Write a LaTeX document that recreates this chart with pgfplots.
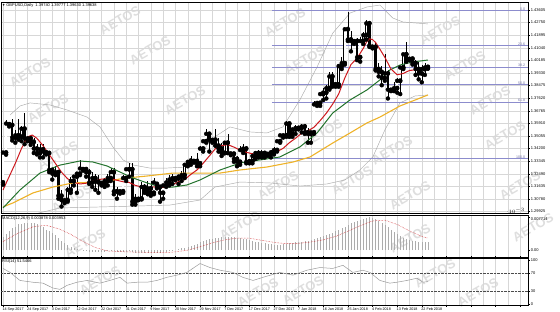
\documentclass[border=0pt]{standalone}
\usepackage{fontspec}
\setmainfont{Liberation Sans}
\usepackage{pgfplots}
\usepackage{pgfplotstable}
\pgfplotsset{compat=1.18}

\definecolor{maRed}{RGB}{205,25,30}
\definecolor{maGreen}{RGB}{35,115,45}
\definecolor{maGold}{RGB}{238,178,40}
\definecolor{fibBlue}{RGB}{140,140,205}
\definecolor{bbGray}{RGB}{170,170,170}
\definecolor{gridGray}{RGB}{215,215,215}
\definecolor{wm}{RGB}{222,222,222}

\pgfplotstableread{
i O H L C
0 1.3190 1.3400 1.3175 1.3393
1 1.3393 1.3616 1.3379 1.3590
2 1.3585 1.3600 1.3570 1.3580
3 1.3580 1.3618 1.3475 1.3495
4 1.3495 1.3545 1.3460 1.3510
5 1.3510 1.3620 1.3480 1.3500
6 1.3500 1.3570 1.3470 1.3555
7 1.3555 1.3660 1.3450 1.3490
8 1.3480 1.3500 1.3470 1.3490
9 1.3490 1.3500 1.3445 1.3465
10 1.3465 1.3490 1.3390 1.3420
11 1.3420 1.3450 1.3380 1.3390
12 1.3390 1.3450 1.3360 1.3415
13 1.3415 1.3450 1.3360 1.3400
14 1.3395 1.3400 1.3380 1.3390
15 1.3390 1.3400 1.3260 1.3275
16 1.3275 1.3290 1.3210 1.3250
17 1.3250 1.3300 1.3240 1.3260
18 1.3260 1.3265 1.3080 1.3100
19 1.3100 1.3140 1.3027 1.3070
20 1.3060 1.3080 1.3050 1.3070
21 1.3070 1.3160 1.3060 1.3140
22 1.3140 1.3230 1.3120 1.3200
23 1.3200 1.3240 1.3170 1.3230
24 1.3230 1.3260 1.3120 1.3250
25 1.3250 1.3340 1.3240 1.3285
26 1.3280 1.3290 1.3270 1.3280
27 1.3280 1.3290 1.3230 1.3260
28 1.3260 1.3280 1.3180 1.3190
29 1.3190 1.3260 1.3160 1.3220
30 1.3220 1.3250 1.3140 1.3195
31 1.3195 1.3240 1.3120 1.3190
32 1.3185 1.3195 1.3170 1.3180
33 1.3180 1.3220 1.3160 1.3200
34 1.3200 1.3250 1.3170 1.3220
35 1.3220 1.3290 1.3200 1.3260
36 1.3260 1.3290 1.3110 1.3130
37 1.3130 1.3160 1.3080 1.3130
38 1.3125 1.3140 1.3115 1.3130
39 1.3130 1.3240 1.3120 1.3220
40 1.3220 1.3290 1.3200 1.3280
41 1.3280 1.3320 1.3230 1.3280
42 1.3280 1.3320 1.3040 1.3060
43 1.3060 1.3110 1.3040 1.3080
44 1.3075 1.3090 1.3070 1.3080
45 1.3080 1.3190 1.3075 1.3160
46 1.3160 1.3180 1.3120 1.3130
47 1.3130 1.3200 1.3110 1.3150
48 1.3150 1.3200 1.3100 1.3120
49 1.3120 1.3220 1.3110 1.3190
50 1.3180 1.3190 1.3150 1.3160
51 1.3160 1.3160 1.3060 1.3120
52 1.3120 1.3180 1.3080 1.3170
53 1.3170 1.3220 1.3160 1.3190
54 1.3190 1.3240 1.3170 1.3210
55 1.3210 1.3250 1.3180 1.3220
56 1.3215 1.3225 1.3205 1.3220
57 1.3220 1.3230 1.3180 1.3230
58 1.3230 1.3270 1.3200 1.3240
59 1.3240 1.3320 1.3220 1.3310
60 1.3310 1.3340 1.3300 1.3330
61 1.3330 1.3370 1.3310 1.3340
62 1.3335 1.3345 1.3325 1.3335
63 1.3335 1.3390 1.3300 1.3320
64 1.3320 1.3440 1.3300 1.3420
65 1.3420 1.3480 1.3400 1.3470
66 1.3470 1.3550 1.3460 1.3520
67 1.3520 1.3530 1.3400 1.3480
68 1.3470 1.3490 1.3460 1.3480
69 1.3480 1.3550 1.3440 1.3440
70 1.3440 1.3490 1.3400 1.3420
71 1.3420 1.3460 1.3370 1.3390
72 1.3390 1.3470 1.3390 1.3460
73 1.3460 1.3520 1.3390 1.3390
74 1.3385 1.3395 1.3375 1.3385
75 1.3385 1.3390 1.3330 1.3350
76 1.3350 1.3370 1.3300 1.3330
77 1.3330 1.3440 1.3310 1.3410
78 1.3410 1.3450 1.3390 1.3420
79 1.3420 1.3440 1.3320 1.3330
80 1.3330 1.3340 1.3320 1.3335
81 1.3335 1.3390 1.3320 1.3370
82 1.3370 1.3400 1.3350 1.3390
83 1.3390 1.3410 1.3360 1.3380
84 1.3380 1.3410 1.3360 1.3390
85 1.3390 1.3400 1.3360 1.3380
86 1.3380 1.3390 1.3370 1.3385
87 1.3385 1.3410 1.3360 1.3395
88 1.3395 1.3430 1.3380 1.3410
89 1.3410 1.3480 1.3400 1.3470
90 1.3470 1.3520 1.3460 1.3510
91 1.3505 1.3515 1.3495 1.3510
92 1.3510 1.3610 1.3500 1.3590
93 1.3590 1.3600 1.3500 1.3520
94 1.3520 1.3560 1.3500 1.3550
95 1.3550 1.3580 1.3520 1.3560
96 1.3560 1.3570 1.3550 1.3560
97 1.3560 1.3590 1.3530 1.3570
98 1.3570 1.3590 1.3520 1.3530
99 1.3530 1.3560 1.3460 1.3520
100 1.3520 1.3540 1.3460 1.3530
101 1.3530 1.3740 1.3520 1.3720
102 1.3720 1.3740 1.3710 1.3730
103 1.3730 1.3790 1.3710 1.3790
104 1.3790 1.3830 1.3750 1.3800
105 1.3800 1.3850 1.3760 1.3830
106 1.3830 1.3940 1.3820 1.3910
107 1.3910 1.3940 1.3840 1.3860
108 1.3855 1.3865 1.3840 1.3855
109 1.3855 1.3990 1.3840 1.3980
110 1.3980 1.4040 1.3960 1.4000
111 1.4000 1.4240 1.3990 1.4230
112 1.4230 1.4345 1.4150 1.4160
113 1.4160 1.4220 1.4080 1.4150
114 1.4145 1.4160 1.4130 1.4150
115 1.4150 1.4170 1.4020 1.4040
116 1.4040 1.4180 1.4010 1.4150
117 1.4150 1.4210 1.4130 1.4190
118 1.4190 1.4290 1.4160 1.4270
119 1.4270 1.4280 1.4110 1.4120
120 1.4110 1.4120 1.4100 1.4110
121 1.4110 1.4140 1.3950 1.3960
122 1.3960 1.4000 1.3910 1.3940
123 1.3940 1.3980 1.3850 1.3900
124 1.3900 1.4060 1.3880 1.3930
125 1.3930 1.3950 1.3760 1.3820
126 1.3815 1.3830 1.3810 1.3820
127 1.3820 1.3870 1.3810 1.3830
128 1.3830 1.3900 1.3800 1.3880
129 1.3880 1.3970 1.3790 1.3970
130 1.3970 1.4070 1.3960 1.4060
131 1.4060 1.4140 1.4010 1.4030
132 1.4025 1.4040 1.4020 1.4030
133 1.4030 1.4040 1.3990 1.4000
134 1.4000 1.4020 1.3920 1.3960
135 1.3960 1.4010 1.3890 1.3930
136 1.3930 1.3990 1.3870 1.3960
137 1.3960 1.4000 1.3920 1.3970
138 1.3974 1.3978 1.3963 1.3964
}\candles

\pgfplotstableread{
i m
0 0.0030
1 0.0037
2 0.0044
3 0.0051
4 0.0055
5 0.0060
6 0.0062
7 0.0064
8 0.0064
9 0.0064
10 0.0063
11 0.0061
12 0.0057
13 0.0053
14 0.0048
15 0.0044
16 0.0039
17 0.0035
18 0.0028
19 0.0022
20 0.0017
21 0.0013
22 0.0008
23 0.0006
24 0.0002
25 0.0000
26 -0.0002
27 -0.0003
28 -0.0004
29 -0.0005
30 -0.0005
31 -0.0005
32 -0.0005
33 -0.0004
34 -0.0003
35 -0.0002
36 -0.0003
37 -0.0004
38 -0.0005
39 -0.0005
40 -0.0004
41 -0.0003
42 -0.0004
43 -0.0006
44 -0.0007
45 -0.0007
46 -0.0007
47 -0.0007
48 -0.0007
49 -0.0006
50 -0.0006
51 -0.0006
52 -0.0005
53 -0.0004
54 -0.0003
55 -0.0002
56 0.0000
57 0.0002
58 0.0004
59 0.0006
60 0.0008
61 0.0010
62 0.0012
63 0.0015
64 0.0019
65 0.0021
66 0.0023
67 0.0025
68 0.0027
69 0.0028
70 0.0029
71 0.0030
72 0.0030
73 0.0031
74 0.0031
75 0.0030
76 0.0029
77 0.0028
78 0.0027
79 0.0025
80 0.0023
81 0.0021
82 0.0020
83 0.0018
84 0.0017
85 0.0016
86 0.0015
87 0.0014
88 0.0013
89 0.0013
90 0.0013
91 0.0014
92 0.0015
93 0.0016
94 0.0017
95 0.0018
96 0.0019
97 0.0020
98 0.0021
99 0.0022
100 0.0024
101 0.0026
102 0.0028
103 0.0030
104 0.0032
105 0.0035
106 0.0038
107 0.0041
108 0.0044
109 0.0047
110 0.0051
111 0.0055
112 0.0059
113 0.0063
114 0.0066
115 0.0069
116 0.0071
117 0.0073
118 0.0075
119 0.0077
120 0.0075
121 0.0072
122 0.0068
123 0.0063
124 0.0058
125 0.0053
126 0.0047
127 0.0042
128 0.0037
129 0.0033
130 0.0029
131 0.0026
132 0.0024
133 0.0022
134 0.0021
135 0.0020
136 0.0019
137 0.0019
138 0.0019
}\macd

\pgfplotsset{
  mt/.style={
    scale only axis, width=527pt,
    xmin=-0.65, xmax=170.5,
    axis line style={black, line width=0.5pt},
    ytick pos=right, yticklabel pos=right,
    tick align=outside, major tick length=2pt,
    tick style={black, line width=0.4pt},
    grid style={gridGray, line width=0.4pt},
    xtick={0,8,...,168}, minor xtick={4,12,...,164},
    xmajorgrids, xminorgrids,
    /pgf/number format/assume math mode=true,
    ticklabel style={font=\fontsize{4.0}{4.6}\selectfont, inner sep=0.6pt},
    clip=true,
  },
  noxlab/.style={xticklabels={}, major x tick style={draw=none}, minor x tick style={draw=none}},
  cndl/.style={only marks, mark=none, error bars/.cd, y dir=plus, y explicit, error mark=none},
}

\begin{document}
\begin{tikzpicture}
\useasboundingbox (0,0) rectangle (560pt,-312pt);

% watermark
\foreach \x/\y in {30/72,48/108,120/20,150/50,185/100,58/155,72/198,285/22,305/60,322/133,278/185,352/180,440/30,465/65,490/100,505/135,392/150,520/185,410/195,85/243,100/280,240/225,258/292,410/238,435/273,533/227,303/290,478/292}
  \node[rotate=30, text=wm, font=\bfseries\fontsize{13}{13}\selectfont] at (\x pt,-\y pt) {AETOS};

% ---------- main price panel ----------
\begin{axis}[mt, noxlab, at={(1pt,-2pt)}, anchor=north west, height=211pt,
  ymin=1.29830, ymax=1.44148, ymajorgrids,
  ytick={1.29925,1.30780,1.31635,1.32490,1.33345,1.34200,1.35055,1.35910,1.36765,1.37620,1.38475,1.39330,1.40185,1.41040,1.41895,1.42750,1.43605},
  yticklabels={1.29925,1.30780,1.31635,1.32490,1.33345,1.34200,1.35055,1.35910,1.36765,1.37620,1.38475,1.39330,1.40185,1.41040,1.41895,1.42750,1.43605},
]
% Bollinger bands
\addplot[bbGray, line width=0.45pt] coordinates {(2.3,1.3648) (5.5,1.3709) (8.8,1.3730) (15.3,1.3716) (20.8,1.3682) (27.3,1.3634) (31.5,1.3567) (35.7,1.3431) (39,1.3343) (42.2,1.3309) (47.7,1.3288) (53.2,1.3288) (59.7,1.3295) (64,1.3363) (67.2,1.3478) (73.7,1.3567) (80.2,1.3533) (85.7,1.3526) (90.9,1.3567) (96.4,1.3750) (102,1.3974) (107.1,1.4204) (112.7,1.4340) (118.2,1.4381) (122.4,1.4394) (126.6,1.4306) (129.9,1.4279) (138,1.4266)};
\addplot[bbGray, line width=0.45pt] coordinates {(0,1.2902) (8.8,1.2969) (18.5,1.3017) (31.5,1.3024) (44.5,1.3031) (54.2,1.3037) (64,1.3071) (68.8,1.3159) (77,1.3193) (86.7,1.3187) (96.4,1.3166) (105.2,1.3180) (111,1.3207) (115.9,1.3275) (120.1,1.3363) (124,1.3546) (128.9,1.3730) (133.8,1.3777) (138,1.3784)};
% Fibonacci levels
\addplot[fibBlue, line width=1pt] coordinates {(87.3,1.4354) (170.5,1.4354)};
\addplot[fibBlue, line width=1pt] coordinates {(87.3,1.4117) (170.5,1.4117)};
\addplot[fibBlue, line width=1pt] coordinates {(87.3,1.3970) (170.5,1.3970)};
\addplot[fibBlue, line width=1pt] coordinates {(87.3,1.3852) (170.5,1.3852)};
\addplot[fibBlue, line width=1pt] coordinates {(87.3,1.3734) (170.5,1.3734)};
\addplot[fibBlue, line width=1pt] coordinates {(87.3,1.3350) (170.5,1.3350)};
% candles: wicks
\addplot[cndl, error bar style={draw=black, line width=0.5pt}]
  table[x=i, y=L, y error expr=\thisrow{H}-\thisrow{L}] {\candles};
% bear bodies
\addplot[cndl, error bar style={draw=black, line width=2.4pt}]
  table[x=i, y=C, y error expr={max(\thisrow{O}-\thisrow{C},0)}] {\candles};
% bull bodies (outline + white fill)
\addplot[cndl, error bar style={draw=black, line width=2.6pt}]
  table[x=i, y expr=\thisrow{O}-0.0002, y error expr={max(\thisrow{C}-\thisrow{O},0)+0.0004}] {\candles};
\addplot[cndl, error bar style={draw=white, line width=1.5pt}]
  table[x=i, y expr=\thisrow{O}+0.0002, y error expr={max(\thisrow{C}-\thisrow{O}-0.0004,0)}] {\candles};
% slow MA (gold)
\addplot[maGold, line width=1.1pt] coordinates {(0,1.3024) (3.2,1.3051) (9.7,1.3119) (16.2,1.3159) (22.7,1.3187) (31.5,1.3193) (40.3,1.3221) (46.8,1.3234) (55.2,1.3254) (64,1.3254) (70.5,1.3254) (77,1.3275) (85.7,1.3295) (94.2,1.3329) (99.7,1.3363) (107.1,1.3458) (112.7,1.3526) (118.2,1.3594) (122.4,1.3634) (128.9,1.3709) (138,1.3784)};
% medium MA (green)
\addplot[maGreen, line width=1pt] coordinates {(0,1.3017) (5.5,1.3139) (12,1.3254) (18.5,1.3308) (25,1.3336) (29.2,1.3329) (33.8,1.3302) (38,1.3261) (42.2,1.3221) (46.8,1.3187) (51,1.3159) (55.2,1.3159) (59.7,1.3173) (64,1.3207) (70.5,1.3275) (77,1.3322) (83.4,1.3343) (89.9,1.3363) (96.4,1.3431) (102,1.3526) (107.1,1.3662) (112.7,1.3750) (118.2,1.3818) (122.4,1.3886) (125.6,1.3953) (128.9,1.3987) (133.1,1.4008) (138,1.4021)};
% fast MA (red)
\addplot[maRed, line width=1pt] coordinates {(0,1.3139) (2,1.3230) (4,1.3320) (6,1.3420) (8,1.3500) (9.5,1.3512) (11,1.3490) (13,1.3440) (15,1.3380) (17,1.3320) (19,1.3260) (21,1.3215) (23,1.3190) (25,1.3180) (27,1.3185) (29,1.3200) (31,1.3210) (33,1.3215) (35,1.3215) (37,1.3205) (39,1.3195) (41,1.3190) (43,1.3170) (45,1.3160) (47,1.3155) (49,1.3160) (51,1.3155) (53,1.3160) (55,1.3175) (57,1.3195) (59,1.3210) (61,1.3245) (63,1.3275) (65,1.3320) (67,1.3370) (69,1.3420) (71,1.3440) (73,1.3447) (75,1.3430) (77,1.3410) (79,1.3395) (81,1.3385) (83,1.3375) (85,1.3378) (87,1.3385) (89,1.3400) (91,1.3422) (93,1.3460) (95,1.3490) (97,1.3525) (99,1.3540) (101,1.3565) (103,1.3610) (105,1.3660) (107,1.3720) (109,1.3790) (111,1.3899) (113,1.3990) (115,1.4034) (117,1.4100) (118,1.4142) (119,1.4165) (120,1.4160) (121,1.4140) (122,1.4108) (124,1.4040) (126,1.3960) (128,1.3921) (130,1.3930) (132,1.3950) (134,1.3955) (136,1.3960) (138,1.3970)};
% fib labels
\begin{scope}[every node/.style={font=\fontsize{3.6}{4}\selectfont, text=fibBlue!80!black, anchor=south east, inner sep=0.5pt}]
\node at (axis cs:169.8,1.4354) {0.0};
\node at (axis cs:169.8,1.4117) {23.6};
\node at (axis cs:169.8,1.3970) {38.2};
\node at (axis cs:169.8,1.3852) {50.0};
\node at (axis cs:169.8,1.3734) {61.8};
\node at (axis cs:169.8,1.3350) {100.0};
\end{scope}
\node[fill=black, text=white, anchor=west, inner sep=0.6pt, font=\fontsize{4.0}{4.6}\selectfont] at (axis cs:171.3,1.39638) {1.39638};
\node[anchor=north west, inner sep=1pt, font=\fontsize{4.0}{4.6}\selectfont] at (rel axis cs:0,1) {\fontsize{3.3}{4}\selectfont▼\ \fontsize{4.0}{4.6}\selectfont GBPUSD,Daily\ \ 1.39740 1.39777 1.39630 1.39638};
\end{axis}

% ---------- MACD panel ----------
\begin{axis}[mt, noxlab, at={(1pt,-215pt)}, anchor=north west, height=42pt,
  ymin=-0.0016, ymax=0.0082,
  ytick={0}, yticklabels={0.00},
  extra y ticks={0.007714}, extra y tick labels={0.007714},
  extra y tick style={yticklabel style={yshift=-1.8pt}},
]
\addplot[ycomb, gray!65, line width=0.4pt] table[x=i, y=m] {\macd};
\addplot[maRed, densely dotted, line width=0.5pt] coordinates {(0,0.0020) (5,0.0040) (10,0.0055) (14,0.0058) (18,0.0050) (22,0.0037) (26,0.0020) (30,0.0006) (34,-0.0002) (40,-0.0004) (46,-0.0005) (52,-0.0006) (56,-0.0004) (60,0.0000) (64,0.0008) (68,0.0017) (72,0.0024) (76,0.0028) (80,0.0028) (84,0.0023) (88,0.0018) (92,0.0015) (96,0.0016) (100,0.0019) (104,0.0024) (108,0.0032) (112,0.0044) (116,0.0057) (120,0.0068) (124,0.0070) (128,0.0060) (132,0.0045) (136,0.0032) (138,0.0028)};
\node[anchor=north west, inner sep=1pt, font=\fontsize{4.0}{4.6}\selectfont] at (rel axis cs:0,1) {MACD(12,26,9) 0.003878 0.003953};
\node[anchor=north west, inner sep=0.5pt, font=\fontsize{4.0}{4.6}\selectfont] at (axis cs:171.3,-0.0006) {-0.004224};
\end{axis}

% ---------- RSI panel ----------
\begin{axis}[mt, at={(1pt,-258.5pt)}, anchor=north west, height=46.5pt,
  ymin=-1.1, ymax=103.3,
  ytick={0,30,70,100}, yticklabels={0,30,70,100},
  xticklabels={14 Sep 2017,24 Sep 2017,3 Oct 2017,12 Oct 2017,22 Oct 2017,31 Oct 2017,9 Nov 2017,20 Nov 2017,29 Nov 2017,7 Dec 2017,17 Dec 2017,27 Dec 2017,7 Jan 2018,16 Jan 2018,25 Jan 2018,4 Feb 2018,13 Feb 2018,22 Feb 2018,,,,},
  xticklabel style={anchor=north west, xshift=-1.2pt, font=\fontsize{3.7}{4.2}\selectfont},
  minor x tick style={draw=none},
]
\addplot[gray!60!black, line width=0.4pt, densely dotted] coordinates {(-0.65,30) (170.5,30)};
\addplot[gray!60!black, line width=0.4pt, densely dotted] coordinates {(-0.65,70) (170.5,70)};
\addplot[gray!80, line width=0.5pt] coordinates {(0,81) (2.3,72) (5.5,54) (9.7,50) (13,48) (16.2,37) (18.5,34) (20.8,43) (24,50) (27.3,54) (31.5,48) (34.7,54) (38,61) (40.3,48) (43.5,50) (46.8,50) (50,54) (53.2,61) (56.5,66) (59.7,72) (64,92) (67.2,83) (70.5,77) (74.7,72) (77.9,61) (81.2,54) (84.4,61) (89.9,72) (94.2,66) (98.7,77) (102.9,83) (107.1,81) (110.4,88) (113.6,72) (116.9,77) (119.2,72) (122.4,54) (125.6,48) (127.9,50) (131.2,54) (134.4,59) (136.4,50) (138,51.5)};
\node[anchor=north west, inner sep=1pt, font=\fontsize{4.0}{4.6}\selectfont] at (rel axis cs:0,1) {RSI(14) 51.5466};
\end{axis}
\end{tikzpicture}
\end{document}
